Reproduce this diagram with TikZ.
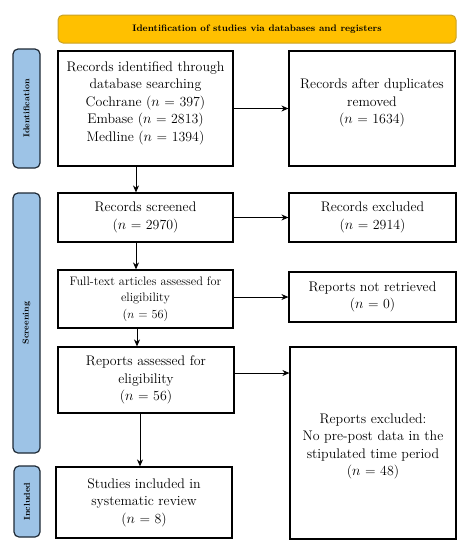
\documentclass[tikz,border=0pt]{standalone}
\usetikzlibrary{arrows.meta,calc}
\definecolor{hdrfill}{HTML}{FFC000}
\definecolor{hdrline}{HTML}{C9A227}
\definecolor{sidefill}{HTML}{9DC3E6}
\definecolor{sideline}{HTML}{1F2A36}
\newcommand{\raisedlines}[2]{\raisebox{#1}[\height][\depth]{\begin{tabular}{@{}c@{}}#2\end{tabular}}}
\begin{document}
\begin{tikzpicture}[x=1pt,y=-1pt,
  box/.style={draw=black,line width=1.2pt,fill=white,align=center,inner sep=2pt,
    font=\fontsize{13.9}{17.5}\selectfont},
  smallbox/.style={box,font=\fontsize{12.3}{16.5}\selectfont},
  side/.style={draw=sideline,fill=sidefill,line width=1.2pt,rounded corners=5pt,
    rotate=90,font=\bfseries\fontsize{8.5}{10}\selectfont,inner sep=0pt},
  arr/.style={-{Stealth[length=7pt,width=6pt]},line width=0.8pt}]
\useasboundingbox (0,0) rectangle (467,550);
\node[draw=hdrline,fill=hdrfill,line width=1pt,rounded corners=5pt,minimum width=398pt,minimum height=28pt,
  font=\bfseries\fontsize{9.4}{10}\selectfont] (hdr) at (257,29) {Identification of studies via databases and registers};
\node[side,minimum width=119pt,minimum height=27pt] (sid) at (26.5,108.5) {Identification};
\node[side,minimum width=260pt,minimum height=27pt] (ssc) at (26.5,323) {Screening};
\node[side,minimum width=71pt,minimum height=26pt] (sin) at (27,501.5) {Included};
\node[box,minimum width=175pt,minimum height=115pt] (b1) at (145.5,108.5)
  {\raisedlines{6pt}{Records identified through\\database searching\\Cochrane ($n$ = 397)\\Embase ($n$ = 2813)\\Medline ($n$ = 1394)}};
\node[box,minimum width=166pt,minimum height=115pt] (b2) at (372,108.5)
  {\raisedlines{6pt}{Records after duplicates\\removed\\($n$ = 1634)}};
\node[box,minimum width=175pt,minimum height=49pt] (b3) at (145.5,217.5)
  {Records screened\\($n$ = 2970)};
\node[box,minimum width=167pt,minimum height=49pt] (b4) at (372.5,217.5)
  {Records excluded\\($n$ = 2914)};
\node[smallbox,minimum width=175pt,minimum height=58pt] (b5) at (145.5,299)
  {Full-text articles assessed for\\eligibility\\($n$ = 56)};
\node[box,minimum width=167pt,minimum height=50pt] (b6) at (372.5,297)
  {Reports not retrieved\\($n$ = 0)};
\node[box,minimum width=176pt,minimum height=66pt] (b7) at (146,380)
  {Reports assessed for\\eligibility\\($n$ = 56)};
\node[box,minimum width=166pt,minimum height=192pt] (b8) at (373,443)
  {\raisedlines{-3pt}{Reports excluded:\\No pre-post data in the\\stipulated time period\\($n$ = 48)}};
\node[box,minimum width=176pt,minimum height=71pt] (b9) at (144,502.5)
  {Studies included in\\systematic review\\($n$ = 8)};
\draw[arr] (b1.east) -- (b2.west);
\draw[arr] (b3.east) -- (b4.west);
\draw[arr] (b5.east |- b6.west) -- (b6.west);
\draw[arr] ([yshift=7pt]b7.east) -- ([yshift=7pt]b7.east -| b8.west);
\draw[arr] ([xshift=-9.5pt]b1.south) -- ([xshift=-9.5pt]b1.south |- b3.north);
\draw[arr] ([xshift=-9.5pt]b3.south) -- ([xshift=-9.5pt]b3.south |- b5.north);
\draw[arr] ([xshift=-8.5pt]b5.south) -- ([xshift=-8.5pt]b5.south |- b7.north);
\draw[arr] ([xshift=-6pt]b7.south) -- ([xshift=-6pt]b7.south |- b9.north);
\end{tikzpicture}
\end{document}
